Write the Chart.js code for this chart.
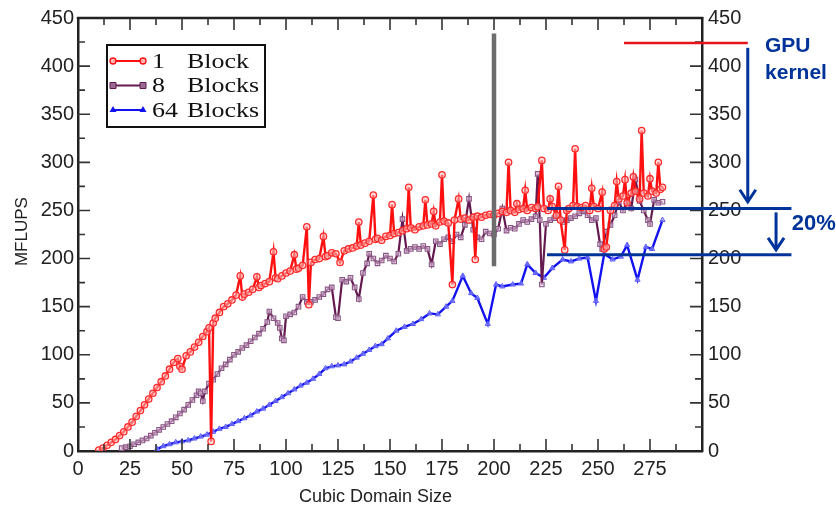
<!DOCTYPE html>
<html>
<head>
<meta charset="utf-8">
<script src="https://cdn.jsdelivr.net/npm/chart.js@4.4.1/dist/chart.umd.min.js"></script>
<style>
html,body{margin:0;padding:0;background:#fff;}
#wrap{width:836px;height:513px;}
</style>
</head>
<body>
<div id="wrap"><canvas id="c" width="836" height="513"></canvas></div>
<script>
// ---------------- DATA ----------------
const seriesLabels = ['1 Block', '8 Blocks', '64 Blocks'];
const legendNumbers = ['1', '8', '64'];
const legendWords = ['Block', 'Blocks', 'Blocks'];
const xAxisTitle = 'Cubic Domain Size';
const yAxisTitle = 'MFLUPS';

const redX = [
 10,12,14,16,18,20,22,24,26,28,
 30,32,34,36,38,40,42,44,46,48,
 49,50,52,54,56,58,60,62,63,64,
 65,66,68,70,72,74,76,78,79,80,
 82,84,86,87,88,90,92,94,95,96,
 98,100,102,104,105,106,108,110,111,112,
 114,116,118,119,120,122,124,126,128,130,
 132,134,135,136,138,140,142,143,144,146,
 148,150,151,152,154,156,158,159,160,162,
 164,166,167,168,170,171,172,174,175,176,
 178,180,181,183,184,186,188,190,191,192,
 194,196,198,200,202,204,206,207,208,210,
 211,212,214,215,216,218,220,221,223,224,
 226,227,228,230,231,232,234,235,236,238,
 239,240,242,244,246,247,248,250,252,253,
 254,256,258,259,260,262,263,264,266,267,
 268,270,271,272,274,275,276,278,279,280,
 281];
const redY = [
 1,3,6,9,12,16,20,25,30,36,
 42,48,54,60,66,72,78,85,92,96,
 88,85,99,103,108,113,119,124,128,10,
 133,138,144,150,153,157,162,182,160,163,
 165,168,181,170,172,174,176,207,180,179,
 182,185,187,204,189,190,193,233,152,196,
 199,200,223,202,203,206,205,196,208,210,
 211,213,238,214,216,218,266,220,221,219,
 223,224,256,226,227,229,231,274,232,230,
 233,234,261,235,236,249,234,238,287,239,
 237,173,240,262,241,242,240,243,199,244,
 243,245,246,245,247,249,248,300,250,248,
 257,251,252,271,250,253,252,254,302,252,
 250,262,254,245,275,240,209,250,252,255,
 314,254,253,255,250,273,254,252,269,210,
 212,250,255,280,262,265,282,258,268,285,
 270,262,333,268,265,283,270,268,300,272,
 274];

const purpleX = [
 21,23,25,27,29,31,33,35,37,39,41,43,45,47,49,51,53,55,57,
 58,59,60,61,
 63,65,67,69,71,73,75,77,79,81,83,85,87,89,91,
 92,94,96,97,98,99,100,
 102,104,106,108,110,112,114,116,118,120,122,
 124,125,
 127,129,131,133,135,137,139,140,
 142,144,146,148,150,152,154,156,158,160,
 162,164,166,168,170,172,174,176,178,180,
 182,184,186,188,190,192,194,196,198,200,
 202,204,206,208,210,212,214,216,218,220,
 221,222,223,
 225,227,229,231,233,235,237,239,241,243,245,247,249,
 251,252,
 254,256,258,260,262,264,266,268,270,272,274,
 275,277,279,281];
const purpleY = [
 3,4,5,7,9,11,13,16,19,22,25,28,31,35,39,43,48,53,58,
 62,60,52,62,
 70,74,80,86,90,95,100,103,107,110,114,118,122,127,134,
 145,138,133,128,117,115,140,
 142,144,150,160,155,155,157,160,163,168,170,
 139,138,
 178,176,180,170,158,185,195,205,
 200,195,198,203,200,197,205,241,208,210,
 212,210,213,210,194,218,215,220,222,218,
 225,222,235,262,230,222,220,228,226,225,
 231,252,229,232,231,236,240,238,241,244,
 288,240,173,
 236,240,242,244,238,240,242,244,247,249,245,240,242,
 215,210,
 228,235,245,259,250,259,252,282,260,250,240,
 236,261,258,259];

const blueX = [
 38,41,44,47,50,53,56,59,62,65,
 68,71,74,77,80,83,86,89,92,95,
 98,101,104,107,110,113,116,119,122,125,
 128,131,134,137,140,143,146,149,153,157,
 161,165,169,173,177,180,185,189,192,197,
 201,204,209,213,216,220,224,228,233,237,
 241,245,249,253,257,261,264,269,273,276,
 281];
const blueY = [
 2,5,7,9,10,11,13,15,17,20,
 23,25,28,31,34,37,41,44,48,52,
 56,60,64,68,71,75,80,86,88,89,
 90,93,97,101,105,109,111,117,125,129,
 132,137,143,142,150,156,182,164,159,132,
 173,171,173,174,194,185,180,190,199,197,
 200,201,156,205,199,202,214,178,212,210,
 240];

// axis ranges / ticks
const X_MIN = 0, X_MAX = 300, X_MAJOR = 25, X_MINOR = 12.5;
const Y_MIN = 0, Y_MAX = 450, Y_MAJOR = 50, Y_MINOR = 25;

// annotation values (data units)
const markerLineX = 200, markerLineTop = 434, markerLineBottom = 192;
const gpuKernelLevel = 424;
const level100 = 252, level80 = 204;

// ---------------- CHART ----------------
function pts(xs, ys){ return xs.map((v,i)=>({x:v, y:ys[i]})); }

const RED = '#ff1010', PURPLE = '#64194f', BLUE = '#1212f0', ANNO = '#003399';
const tickFont = {family:"'Liberation Sans', Arial, sans-serif", size:20};

const decor = {
  id:'decor',
  afterDraw(chart){
    const {ctx, chartArea:a, scales:{x, y}} = chart;
    ctx.save();
    // top frame line
    ctx.strokeStyle = '#222'; ctx.lineWidth = 2.5;
    ctx.beginPath(); ctx.moveTo(a.left-1.25, a.top); ctx.lineTo(a.right+1.25, a.top); ctx.stroke();
    // inward ticks
    ctx.lineWidth = 1.6; ctx.strokeStyle = '#333';
    for (let v = X_MIN + X_MINOR; v < X_MAX; v += X_MINOR){
      const px = x.getPixelForValue(v);
      const len = (v % X_MAJOR === 0) ? 12 : 7;
      ctx.beginPath();
      ctx.moveTo(px, a.bottom); ctx.lineTo(px, a.bottom - len);
      ctx.moveTo(px, a.top); ctx.lineTo(px, a.top + len);
      ctx.stroke();
    }
    for (let v = Y_MIN + Y_MINOR; v < Y_MAX; v += Y_MINOR){
      const py = y.getPixelForValue(v);
      const len = (v % Y_MAJOR === 0) ? 12 : 7;
      ctx.beginPath();
      ctx.moveTo(a.left, py); ctx.lineTo(a.left + len, py);
      ctx.moveTo(a.right, py); ctx.lineTo(a.right - len, py);
      ctx.stroke();
    }
    // axis titles
    ctx.fillStyle = '#222';
    ctx.font = "17px 'Liberation Sans', Arial, sans-serif";
    ctx.textAlign = 'center'; ctx.textBaseline = 'middle';
    ctx.save();
    ctx.translate(22, y.getPixelForValue(228));
    ctx.rotate(-Math.PI/2);
    ctx.fillText(yAxisTitle, 0, 0);
    ctx.restore();
    ctx.font = "18px 'Liberation Sans', Arial, sans-serif";
    ctx.fillText(xAxisTitle, x.getPixelForValue(143), 497);

    // legend
    const bx = a.left + 29, by = a.top + 27, bw = 158, bh = 82;
    ctx.fillStyle = '#fff'; ctx.fillRect(bx, by, bw, bh);
    ctx.strokeStyle = '#111'; ctx.lineWidth = 2;
    ctx.strokeRect(bx, by, bw, bh);
    const colors = [RED, PURPLE, BLUE];
    const styles = ['circle', 'rect', 'triangle'];
    for (let i = 0; i < 3; i++){
      const ly = by + 16 + i * 24.5;
      const x1 = bx + 6, x2 = bx + 36;
      ctx.strokeStyle = colors[i]; ctx.lineWidth = 2;
      ctx.beginPath(); ctx.moveTo(x1, ly); ctx.lineTo(x2, ly); ctx.stroke();
      for (const mx of [x1, x2]){
        ctx.beginPath();
        if (styles[i] === 'circle'){ ctx.arc(mx, ly, 3, 0, Math.PI*2); ctx.fillStyle='rgba(255,180,180,0.9)'; ctx.fill(); ctx.lineWidth=1.3; ctx.stroke(); }
        else if (styles[i] === 'rect'){ ctx.rect(mx-3, ly-3, 6, 6); ctx.fillStyle='#9a6a94'; ctx.fill(); ctx.lineWidth=1; ctx.stroke(); }
        else { ctx.moveTo(mx, ly-4); ctx.lineTo(mx+3.5, ly+2); ctx.lineTo(mx-3.5, ly+2); ctx.closePath(); ctx.fillStyle=BLUE; ctx.fill(); }
      }
      ctx.fillStyle = '#111';
      ctx.font = "22px 'Liberation Serif', 'Times New Roman', serif";
      ctx.textAlign = 'left'; ctx.textBaseline = 'middle';
      ctx.save(); ctx.translate(bx + 45, ly + 1); ctx.scale(1.18, 1); ctx.fillText(legendNumbers[i], 0, 0); ctx.restore();
      ctx.save(); ctx.translate(bx + 80, ly + 1); ctx.scale(1.18, 1); ctx.fillText(legendWords[i], 0, 0); ctx.restore();
    }

    // annotations
    ctx.lineCap = 'butt';
    ctx.strokeStyle = '#6d6d6d'; ctx.lineWidth = 4.5;
    const gx = x.getPixelForValue(markerLineX);
    ctx.beginPath(); ctx.moveTo(gx, y.getPixelForValue(markerLineTop)); ctx.lineTo(gx, y.getPixelForValue(markerLineBottom)); ctx.stroke();

    ctx.strokeStyle = '#e8141b'; ctx.lineWidth = 2.5;
    const ry = y.getPixelForValue(gpuKernelLevel);
    ctx.beginPath(); ctx.moveTo(x.getPixelForValue(262.5), ry); ctx.lineTo(x.getPixelForValue(322), ry); ctx.stroke();

    ctx.strokeStyle = ANNO; ctx.lineWidth = 3;
    // big arrow
    const ax = x.getPixelForValue(322);
    const aTop = y.getPixelForValue(419), aTip = y.getPixelForValue(259);
    ctx.beginPath(); ctx.moveTo(ax, aTop); ctx.lineTo(ax, aTip); ctx.stroke();
    ctx.beginPath(); ctx.moveTo(ax-8, aTip-12); ctx.lineTo(ax, aTip); ctx.lineTo(ax+8, aTip-12); ctx.stroke();
    // level lines
    const hx1 = x.getPixelForValue(225.5), hx2 = x.getPixelForValue(343);
    for (const lv of [level100, level80]){
      const hy = y.getPixelForValue(lv);
      ctx.beginPath(); ctx.moveTo(hx1, hy); ctx.lineTo(hx2, hy); ctx.stroke();
    }
    // small arrow
    const sx = x.getPixelForValue(335.6);
    const sTop = y.getPixelForValue(248), sTip = y.getPixelForValue(209);
    ctx.beginPath(); ctx.moveTo(sx, sTop); ctx.lineTo(sx, sTip); ctx.stroke();
    ctx.beginPath(); ctx.moveTo(sx-8, sTip-12); ctx.lineTo(sx, sTip); ctx.lineTo(sx+8, sTip-12); ctx.stroke();
    // texts
    ctx.fillStyle = ANNO;
    ctx.font = "bold 21px 'Liberation Sans', Arial, sans-serif";
    ctx.textAlign = 'left'; ctx.textBaseline = 'middle';
    const tx = x.getPixelForValue(330.3);
    ctx.fillText('GPU', tx, y.getPixelForValue(421));
    ctx.fillText('kernel', tx, y.getPixelForValue(393));
    ctx.font = "bold 22px 'Liberation Sans', Arial, sans-serif";
    ctx.fillText('20%', x.getPixelForValue(343.2), y.getPixelForValue(236));
    ctx.restore();
  }
};

new Chart(document.getElementById('c'), {
  type: 'scatter',
  data: {
    datasets: [
      {label: seriesLabels[0], data: pts(redX, redY), showLine: true,
       borderColor: RED, borderWidth: 2.4, pointStyle: 'circle', pointRadius: 3.2,
       pointBorderColor: '#ff2a2a', pointBackgroundColor: 'rgba(255,190,190,0.55)', pointBorderWidth: 1.3},
      {label: seriesLabels[1], data: pts(purpleX, purpleY), showLine: true,
       borderColor: PURPLE, borderWidth: 2.2, pointStyle: 'rect', pointRadius: 3.2,
       pointBorderColor: '#8a5685', pointBackgroundColor: 'rgba(225,200,225,0.6)', pointBorderWidth: 1.1},
      {label: seriesLabels[2], data: pts(blueX, blueY), showLine: true,
       borderColor: BLUE, borderWidth: 2.4, pointStyle: 'triangle', pointRadius: 3,
       pointBorderColor: '#5a5aff', pointBackgroundColor: 'rgba(160,160,255,0.6)', pointBorderWidth: 1}
    ]
  },
  options: {
    responsive: false, animation: false, devicePixelRatio: 1,
    layout: {padding: {top: 15, left: 0, right: 0, bottom: 0}},
    plugins: {legend: {display: false}, tooltip: {enabled: false}},
    scales: {
      x: {type: 'linear', position: 'bottom', min: X_MIN, max: X_MAX,
          ticks: {stepSize: X_MAJOR, font: tickFont, color: '#222', padding: 6, maxRotation: 0,
                  callback: v => (v === X_MAX ? '' : v)},
          grid: {display: false, drawTicks: false},
          border: {display: true, color: '#222', width: 2.5},
          afterFit: s => { s.height = 62; }},
      y: {type: 'linear', position: 'left', min: Y_MIN, max: Y_MAX,
          ticks: {stepSize: Y_MAJOR, font: tickFont, color: '#222', padding: 4},
          grid: {display: false, drawTicks: false},
          border: {display: true, color: '#222', width: 2.5},
          afterFit: s => { s.width = 78; }},
      y2: {type: 'linear', position: 'right', min: Y_MIN, max: Y_MAX,
          ticks: {stepSize: Y_MAJOR, font: tickFont, color: '#222', padding: 6},
          grid: {display: false, drawTicks: false},
          border: {display: true, color: '#222', width: 2.5},
          afterFit: s => { s.width = 134; }}
    }
  },
  plugins: [decor]
});
</script>
</body>
</html>
